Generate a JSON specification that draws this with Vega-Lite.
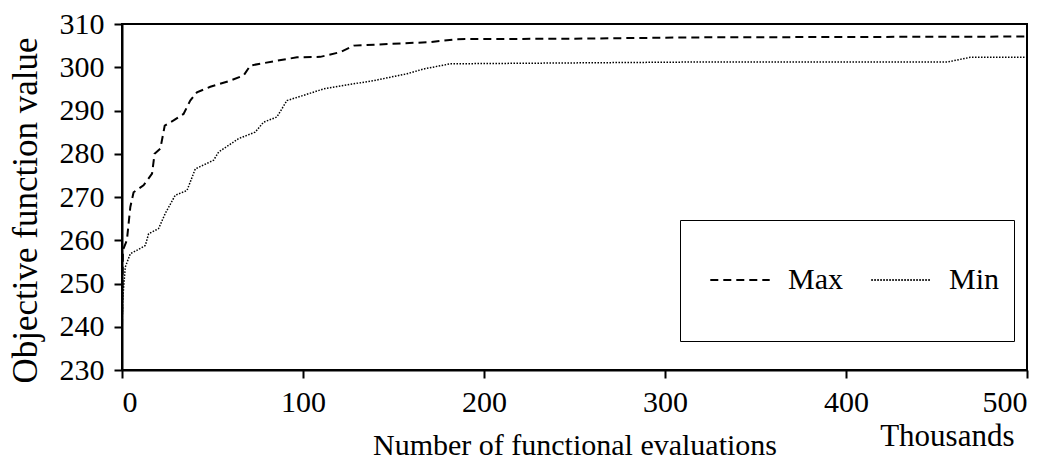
{
  "$schema": "https://vega.github.io/schema/vega-lite/v6.json",
  "width": 905,
  "height": 346,
  "autosize": {"type": "none"},
  "padding": {"left": 122, "top": 24, "right": 27, "bottom": 89},
  "background": "white",
  "config": {
    "view": {"stroke": "black", "strokeWidth": 2},
    "font": "Liberation Serif",
    "axis": {
      "labelFont": "Liberation Serif",
      "labelFontSize": 30,
      "labelColor": "black",
      "titleFont": "Liberation Serif",
      "titleFontWeight": "normal",
      "titleColor": "black",
      "domainColor": "black",
      "domainWidth": 2,
      "tickColor": "black",
      "tickWidth": 2,
      "tickSize": 8,
      "grid": false
    },
    "legend": {
      "labelFont": "Liberation Serif",
      "labelFontSize": 30,
      "labelColor": "black"
    }
  },
  "data": {
    "values": [
      {"x": 0, "v": 240, "series": "Max"},
      {"x": 0.5, "v": 257.7, "series": "Max"},
      {"x": 2.7, "v": 260, "series": "Max"},
      {"x": 4.6, "v": 267.7, "series": "Max"},
      {"x": 6.4, "v": 271.1, "series": "Max"},
      {"x": 11.9, "v": 272.7, "series": "Max"},
      {"x": 16.6, "v": 275.4, "series": "Max"},
      {"x": 18, "v": 280, "series": "Max"},
      {"x": 21.2, "v": 281.2, "series": "Max"},
      {"x": 23.6, "v": 286.5, "series": "Max"},
      {"x": 28.5, "v": 287.7, "series": "Max"},
      {"x": 34, "v": 289.2, "series": "Max"},
      {"x": 37.7, "v": 292.3, "series": "Max"},
      {"x": 41.4, "v": 294.2, "series": "Max"},
      {"x": 48.8, "v": 295.5, "series": "Max"},
      {"x": 59.8, "v": 296.9, "series": "Max"},
      {"x": 67.2, "v": 298.1, "series": "Max"},
      {"x": 70.9, "v": 300.4, "series": "Max"},
      {"x": 85.6, "v": 301.5, "series": "Max"},
      {"x": 96.7, "v": 302.3, "series": "Max"},
      {"x": 109.6, "v": 302.4, "series": "Max"},
      {"x": 120.6, "v": 303.5, "series": "Max"},
      {"x": 128, "v": 305, "series": "Max"},
      {"x": 148, "v": 305.4, "series": "Max"},
      {"x": 170, "v": 305.8, "series": "Max"},
      {"x": 185, "v": 306.5, "series": "Max"},
      {"x": 250, "v": 306.6, "series": "Max"},
      {"x": 314, "v": 306.9, "series": "Max"},
      {"x": 400, "v": 307, "series": "Max"},
      {"x": 500, "v": 307.1, "series": "Max"},
      {"x": 0, "v": 240, "series": "Min"},
      {"x": 0.5, "v": 246.9, "series": "Min"},
      {"x": 1.8, "v": 253.8, "series": "Min"},
      {"x": 4.6, "v": 256.9, "series": "Min"},
      {"x": 8.3, "v": 257.7, "series": "Min"},
      {"x": 12.9, "v": 258.8, "series": "Min"},
      {"x": 14.7, "v": 261.5, "series": "Min"},
      {"x": 20.2, "v": 262.7, "series": "Min"},
      {"x": 23.9, "v": 266.2, "series": "Min"},
      {"x": 29.4, "v": 270.4, "series": "Min"},
      {"x": 35.9, "v": 271.5, "series": "Min"},
      {"x": 40.5, "v": 276.5, "series": "Min"},
      {"x": 50.6, "v": 278.5, "series": "Min"},
      {"x": 53.4, "v": 280.4, "series": "Min"},
      {"x": 64.4, "v": 283.5, "series": "Min"},
      {"x": 73.6, "v": 285, "series": "Min"},
      {"x": 78.2, "v": 287.3, "series": "Min"},
      {"x": 85.6, "v": 288.5, "series": "Min"},
      {"x": 91.1, "v": 292.3, "series": "Min"},
      {"x": 100.3, "v": 293.5, "series": "Min"},
      {"x": 111.4, "v": 295, "series": "Min"},
      {"x": 122.4, "v": 295.8, "series": "Min"},
      {"x": 139, "v": 296.9, "series": "Min"},
      {"x": 157.5, "v": 298.5, "series": "Min"},
      {"x": 166.6, "v": 299.6, "series": "Min"},
      {"x": 181.4, "v": 300.8, "series": "Min"},
      {"x": 314, "v": 301.2, "series": "Min"},
      {"x": 455.8, "v": 301.2, "series": "Min"},
      {"x": 468.7, "v": 302.3, "series": "Min"},
      {"x": 500, "v": 302.3, "series": "Min"}
    ]
  },
  "resolve": {"axis": {"x": "independent"}},
  "layer": [
    {
      "transform": [{"filter": "datum.series === 'Max'"}],
      "mark": {"type": "line", "color": "black", "strokeWidth": 2, "clip": true},
      "encoding": {
        "x": {
          "field": "x", "type": "quantitative",
          "scale": {"domain": [0, 500], "nice": false},
          "axis": {
            "orient": "bottom",
            "values": [0, 100, 200, 300, 400, 500],
            "labelPadding": 9,
            "title": "Number of functional evaluations",
            "titleFontSize": 30,
            "titleY": 84,
            "titleBaseline": "alphabetic"
          }
        },
        "y": {
          "field": "v", "type": "quantitative",
          "scale": {"domain": [230, 310], "nice": false, "zero": false},
          "axis": {
            "values": [230, 240, 250, 260, 270, 280, 290, 300, 310],
            "labelPadding": 10,
            "title": "Objective function value",
            "titleFontSize": 35,
            "titleAngle": 270,
            "titleX": -86,
            "titleY": 186,
            "titleAlign": "center",
            "titleBaseline": "alphabetic"
          }
        },
        "strokeDash": {
          "field": "series", "type": "nominal",
          "scale": {"domain": ["Max", "Min"], "range": [[8, 5], [1.5, 1.5]]},
          "legend": {
            "title": null,
            "orient": "none",
            "legendX": 558,
            "legendY": 196,
            "direction": "horizontal",
            "symbolType": "M-0.66,0H0.66",
            "symbolSize": 8100,
            "symbolStrokeColor": "black",
            "symbolStrokeWidth": 1.8,
            "labelOffset": 2,
            "columnPadding": 12,
            "padding": 14,
            "labelExpr": "[datum.label, '']",
            "strokeColor": "black"
          }
        }
      }
    },
    {
      "transform": [{"filter": "datum.series === 'Min'"}],
      "mark": {"type": "line", "color": "black", "strokeWidth": 1.5, "clip": true},
      "encoding": {
        "x": {
          "field": "x", "type": "quantitative",
          "scale": {"domain": [0, 500], "nice": false},
          "axis": {
            "orient": "bottom",
            "labels": false,
            "ticks": false,
            "domain": false,
            "title": "Thousands",
            "titleFontSize": 31,
            "titleX": 892,
            "titleY": 75,
            "titleAlign": "right",
            "titleBaseline": "alphabetic"
          }
        },
        "y": {"field": "v", "type": "quantitative"},
        "strokeDash": {"field": "series", "type": "nominal"}
      }
    }
  ]
}
